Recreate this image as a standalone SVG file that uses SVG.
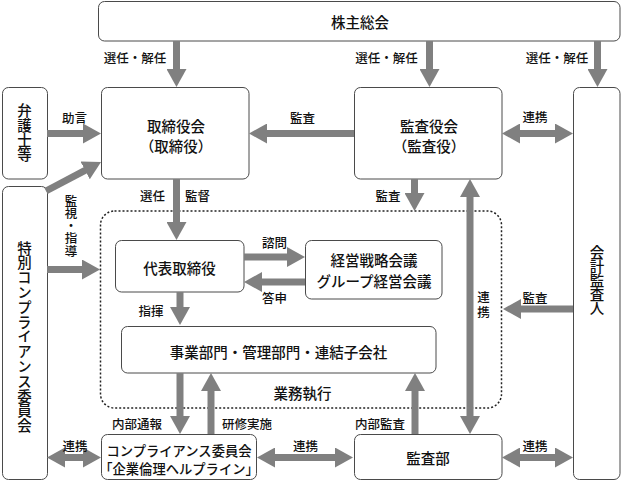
<svg xmlns="http://www.w3.org/2000/svg" width="621" height="482" viewBox="0 0 621 482">
<style>
.box{fill:#fff;stroke:#4a4a4a;stroke-width:1}
.dash{fill:none;stroke:#222;stroke-width:1.5;stroke-dasharray:2 2}
.c{fill:none;stroke:#808080;stroke-width:7}
.e{marker-end:url(#ah)}
.d{marker-start:url(#ah);marker-end:url(#ah)}
text{font-family:"Noto Sans CJK JP","Noto Sans CJK SC",sans-serif;font-weight:500;text-anchor:middle;dominant-baseline:central;fill:#111}
.t{font-size:14.5px}
.s{font-size:13.3px}
.l{font-size:12.5px}
.v{writing-mode:vertical-rl;text-orientation:upright}
</style>
<defs>
<marker id="ah" markerUnits="userSpaceOnUse" markerWidth="18" markerHeight="20" viewBox="0 0 18 20" refX="8" refY="10" orient="auto-start-reverse">
<path d="M0,0 L18,10 L0,20 z" fill="#808080"/>
</marker>
</defs>

<rect class="dash" x="100.5" y="211" width="401" height="197" rx="14"/>

<g id="kabunushi"><rect class="box" x="98.5" y="1.5" width="521.5" height="39.5" rx="6"/><text class="t" x="360" y="21">株主総会</text></g>
<g id="torishimariyakukai"><rect class="box" x="101.5" y="87.5" width="147.5" height="91.5" rx="6"/><text class="t"><tspan x="176" y="124.5">取締役会</tspan><tspan x="176" y="145">（取締役）</tspan></text></g>
<g id="bengoshi"><rect class="box" x="2.5" y="87.5" width="45" height="91.5" rx="6"/><text class="t v" x="24.5" y="133" style="letter-spacing:0.2px">弁護士等</text></g>
<g id="tokubetsu"><rect class="box" x="2.5" y="186.5" width="45" height="293" rx="6"/><text class="t v" x="24.5" y="337" style="letter-spacing:0.3px">特別コンプライアンス委員会</text></g>
<g id="kansayakukai"><rect class="box" x="354.5" y="87.5" width="147.5" height="91.5" rx="6"/><text class="t"><tspan x="429" y="124.5">監査役会</tspan><tspan x="429" y="145">（監査役）</tspan></text></g>
<g id="kaikei"><rect class="box" x="573.5" y="87.5" width="46.5" height="392" rx="6"/><text class="t v" x="597" y="280" style="letter-spacing:-0.6px">会計監査人</text></g>
<g id="daihyo"><rect class="box" x="115.5" y="240.5" width="128.5" height="51.5" rx="6"/><text class="t" x="179.5" y="267.5">代表取締役</text></g>
<g id="keiei"><rect class="box" x="305.5" y="240.5" width="136.5" height="58.5" rx="6"/><text class="t"><tspan x="374" y="259.3">経営戦略会議</tspan><tspan x="374" y="279.8">グループ経営会議</tspan></text></g>
<g id="jigyo"><rect class="box" x="121.5" y="326.5" width="314.5" height="46.5" rx="6"/><text class="t" x="278.5" y="351">事業部門・管理部門・連結子会社</text></g>
<g id="compliance"><rect class="box" x="101.5" y="434.5" width="155" height="45" rx="6"/><text class="s"><tspan x="179" y="449.5">コンプライアンス委員会</tspan><tspan x="179" y="467.5">「企業倫理ヘルプライン」</tspan></text></g>
<g id="kansabu"><rect class="box" x="354.5" y="434.5" width="147.5" height="45" rx="6"/><text class="t" x="428" y="457.5">監査部</text></g>

<g id="connectors">
<path class="c e" d="M176.5,41 V77"/>
<path class="c e" d="M429.5,41 V77"/>
<path class="c e" d="M597.5,41 V77"/>
<path class="c e" d="M354,133.5 H259"/>
<path class="c e" d="M47,133.5 H91"/>
<path class="c e" d="M46,191 L92.2,166.7"/>
<path class="c d" d="M512,133.5 H563"/>
<path class="c e" d="M176.5,179 V230"/>
<path class="c e" d="M47,269.5 H90"/>
<path class="c e" d="M414.5,179 V201"/>
<path class="c d" d="M470,189 V424"/>
<path class="c e" d="M573,309 H513"/>
<path class="c e" d="M244,257 H295"/>
<path class="c e" d="M305,282 H254"/>
<path class="c e" d="M180,292 V315"/>
<path class="c e" d="M180,373 V424"/>
<path class="c e" d="M211,434 V383"/>
<path class="c e" d="M415,434 V383"/>
<path class="c d" d="M57,457.5 H91"/>
<path class="c d" d="M267,457.5 H343"/>
<path class="c d" d="M512,457.5 H563"/>
</g>

<g id="labels">
<text class="l" x="135" y="57">選任・解任</text>
<text class="l" x="386.5" y="57">選任・解任</text>
<text class="l" x="557" y="57">選任・解任</text>
<text class="l" x="74.5" y="117">助言</text>
<text class="l" x="302.5" y="117">監査</text>
<text class="l" x="535" y="116">連携</text>
<text class="l" x="152.5" y="195">選任</text>
<text class="l" x="197.5" y="195">監督</text>
<text class="l" x="388" y="195">監査</text>
<text class="l v" x="71" y="226">監視・指導</text>
<text class="l" x="274.5" y="242">諮問</text>
<text class="l" x="274.5" y="297">答申</text>
<text class="l" x="151" y="310">指揮</text>
<text class="l v" x="483.5" y="305.5" style="letter-spacing:2.5px">連携</text>
<text class="l" x="535" y="297">監査</text>
<text class="t" x="302.5" y="392">業務執行</text>
<text class="l" x="137" y="423">内部通報</text>
<text class="l" x="247" y="423">研修実施</text>
<text class="l" x="380" y="423">内部監査</text>
<text class="l" x="75" y="445">連携</text>
<text class="l" x="305.5" y="445">連携</text>
<text class="l" x="535" y="445">連携</text>
</g>
</svg>
